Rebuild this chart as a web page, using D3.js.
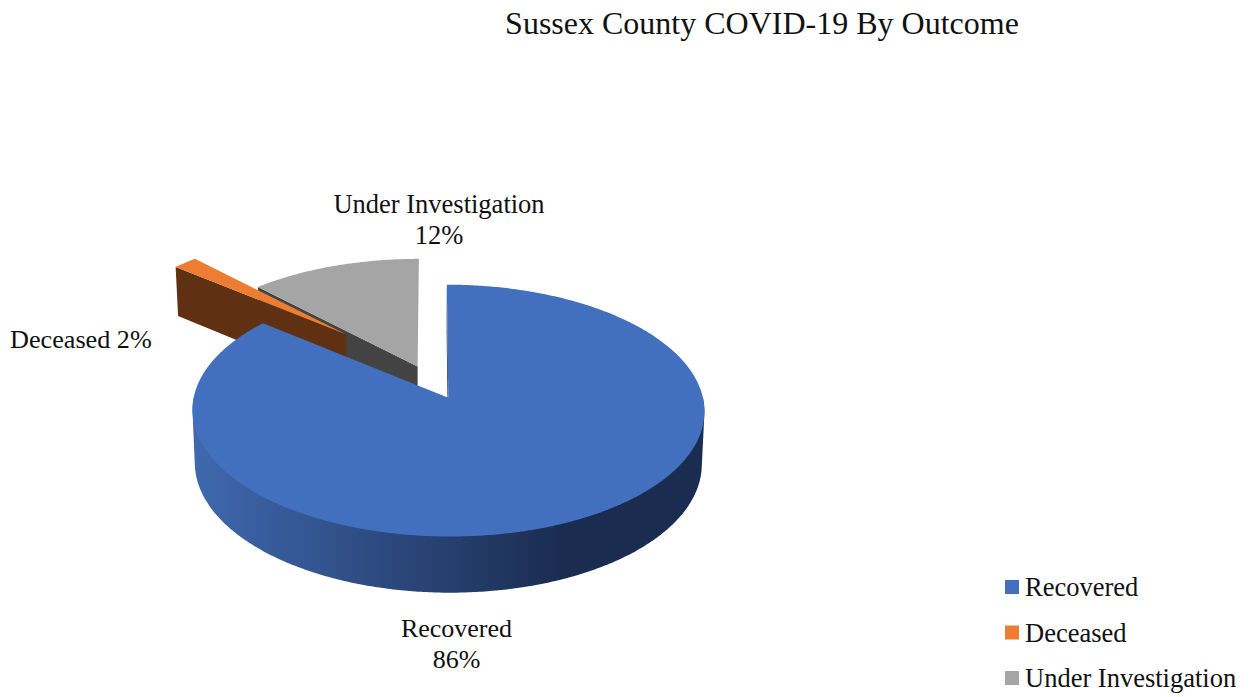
<!DOCTYPE html>
<html>
<head>
<meta charset="utf-8">
<script src="https://cdn.jsdelivr.net/npm/d3@7/dist/d3.min.js"></script>
<style>
html,body{margin:0;padding:0;background:#fff;}
svg{display:block;}
text{font-family:"Liberation Serif","Times New Roman",serif;fill:#111;}
</style>
</head>
<body>
<svg id="chart" width="1250" height="697"></svg>
<script>
// ---- data ----
const categories = ["Recovered", "Deceased", "Under Investigation"];
const values = [86, 1.8, 12.2];
const percentLabels = ["86%", "2%", "12%"];
const titleText = "Sussex County COVID-19 By Outcome";

// ---- styles ----
const topColors = ["#4270BF", "#ED7D31", "#A5A5A5"];
const wallColors = ["#1F3864", "#5F3012", "#434343"];
// explosion of every slice in the pie's own plane (radius = 1)
const explode = [[0.064, -0.127], [-0.356, 0.41], [-0.058, 0.13]];

// perspective of the tilted pie
const persp = 0.1;
const topPlane = {x0: 432, y0: 382.2, A: 251.4, B: 121.5};
const basePlane = {x0: 432, y0: 434.3, A: 249, B: 124.7};
function project(plane, u, v) {
  const w = 1 + persp * v;
  return [plane.x0 + plane.A * u / w, plane.y0 - plane.B * v / w];
}

const svg = d3.select("#chart");
const pie = d3.pie().sort(null).value(d => d);
const arcs = pie(values);
const line = d3.line();

function rim(plane, i, a0, a1) {
  const [ox, oy] = explode[i];
  const n = Math.max(2, Math.ceil(Math.abs(a1 - a0) / 0.01));
  return d3.range(n + 1).map(k => {
    const a = a0 + (a1 - a0) * k / n;
    return project(plane, ox + Math.sin(a), oy + Math.cos(a));
  });
}
function centre(plane, i) { return project(plane, explode[i][0], explode[i][1]); }
function topFace(i) {
  const a = arcs[i];
  return line([centre(topPlane, i), ...rim(topPlane, i, a.startAngle, a.endAngle)]) + "Z";
}
// radial cut wall along angle a
function cutWall(i, a) {
  const t = rim(topPlane, i, a, a + 1e-6)[0], b = rim(basePlane, i, a, a + 1e-6)[0];
  return line([t, centre(topPlane, i), centre(basePlane, i), b]) + "Z";
}

const defs = svg.append("defs");
const grad = defs.append("linearGradient").attr("id", "blueWall")
  .attr("gradientUnits", "userSpaceOnUse")
  .attr("x1", 197).attr("x2", 565).attr("y1", 0).attr("y2", 0);
grad.append("stop").attr("offset", 0).attr("stop-color", "#3F68AE");
grad.append("stop").attr("offset", 1).attr("stop-color", "#1A2C50");

// painter's order: grey, orange, blue
const g = svg.append("g");
g.append("path").attr("d", cutWall(2, arcs[2].startAngle)).attr("fill", wallColors[2]);
g.append("path").attr("d", topFace(2)).attr("fill", topColors[2]);
g.append("path").attr("d", cutWall(1, arcs[1].startAngle)).attr("fill", wallColors[1]);
g.append("path").attr("d", topFace(1)).attr("fill", topColors[1]);

g.append("path").attr("d", cutWall(0, arcs[0].startAngle)).attr("fill", wallColors[0]);
// outer wall: silhouette of the front half of the top and base rims
const hull = d3.polygonHull([
  ...rim(topPlane, 0, Math.PI * 0.5, Math.PI * 1.5),
  ...rim(basePlane, 0, Math.PI * 0.5, Math.PI * 1.5)
]);
g.append("path").attr("d", line(hull) + "Z").attr("fill", "url(#blueWall)");
g.append("path").attr("d", topFace(0)).attr("fill", topColors[0]);

// title
svg.append("text").attr("x", 762).attr("y", 33.5).attr("text-anchor", "middle")
  .attr("font-size", 32).text(titleText);

// data labels
const fs = 26.5;
function label(x, y, s, anchor, size) {
  svg.append("text").attr("x", x).attr("y", y).attr("text-anchor", anchor || "middle")
    .attr("font-size", size || fs).text(s);
}
label(439, 212.5, categories[2]);
label(439, 243.5, percentLabels[2]);
label(10, 347.5, categories[1] + " " + percentLabels[1], "start", 26.2);
label(456.5, 636.5, categories[0], "middle", 26);
label(456.5, 667.5, percentLabels[0], "middle", 26);

// legend
const legendY = d3.scalePoint().domain(categories).range([587, 678]);
categories.forEach((c, i) => {
  svg.append("rect").attr("x", 1005).attr("y", legendY(c) - 7).attr("width", 14).attr("height", 14)
    .attr("fill", topColors[i]);
  svg.append("text").attr("x", 1025).attr("y", legendY(c) + 9).attr("font-size", fs).text(c);
});
</script>
</body>
</html>
